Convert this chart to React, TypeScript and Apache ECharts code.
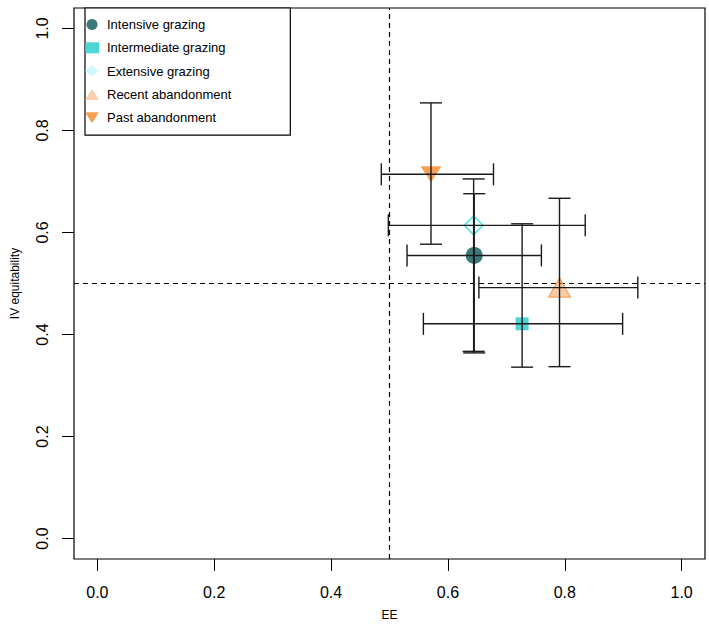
import React, { useEffect, useRef } from "react";
import * as echarts from "echarts";

const groups = [
  "Intensive grazing",
  "Intermediate grazing",
  "Extensive grazing",
  "Recent abandonment",
  "Past abandonment",
];
const eeMean = [0.645, 0.727, 0.644, 0.791, 0.571];
const eeLow = [0.53, 0.558, 0.498, 0.653, 0.486];
const eeHigh = [0.76, 0.899, 0.835, 0.925, 0.678];
const ivMean = [0.555, 0.421, 0.614, 0.492, 0.714];
const ivLow = [0.364, 0.336, 0.367, 0.337, 0.577];
const ivHigh = [0.676, 0.617, 0.705, 0.667, 0.854];
const tickValues = [0, 0.2, 0.4, 0.6, 0.8, 1.0];

const FONT = "'Liberation Sans', Arial, sans-serif";
const DOWN_TRI = "path://M0,0 L20,0 L10,16 Z";

const markerStyles = [
  { symbol: "circle", size: 17, itemStyle: { color: "#0a5757" }, legend: { color: "#0a5757" } },
  { symbol: "rect", size: 13, itemStyle: { color: "#1fcccc" }, legend: { color: "#1fcccc" } },
  {
    symbol: "diamond",
    size: [19, 19],
    itemStyle: { color: "rgba(200,250,250,0.55)", borderColor: "#35d6d6", borderWidth: 1.5 },
    legend: { color: "#c2f8fb", borderWidth: 0 },
  },
  {
    symbol: "triangle",
    size: [22, 19],
    itemStyle: { color: "rgba(248,170,110,0.75)", borderColor: "#f2943e", borderWidth: 1.2 },
    legend: { color: "#f9c39c", borderWidth: 0 },
  },
  { symbol: DOWN_TRI, size: [21, 16], itemStyle: { color: "#f48a2c" }, legend: { color: "#f48a2c" } },
];

export default function App() {
  const ref = useRef<HTMLDivElement>(null);
  useEffect(() => {
    if (!ref.current) return;
    const chart = echarts.init(ref.current, null, { renderer: "svg" });

    const scatterSeries = groups.map((g, i) => ({
      name: g,
      type: "scatter",
      z: 2,
      symbol: markerStyles[i].symbol,
      symbolSize: markerStyles[i].size,
      itemStyle: markerStyles[i].itemStyle,
      data: [[eeMean[i], ivMean[i]]],
      ...(i === 0
        ? {
            markLine: {
              silent: true,
              symbol: "none",
              label: { show: false },
              z: 1,
              lineStyle: { color: "#000", width: 1.2, type: [5, 4] },
              data: [{ xAxis: 0.5 }, { yAxis: 0.5 }],
            },
          }
        : {}),
    }));

    const errData = groups.map((_, i) => [
      eeMean[i],
      ivMean[i],
      eeLow[i],
      eeHigh[i],
      ivLow[i],
      ivHigh[i],
    ]);

    const errSeries = {
      type: "custom",
      z: 5,
      silent: true,
      data: errData,
      encode: { x: [0, 2, 3], y: [1, 4, 5] },
      renderItem: (params: any, api: any) => {
        const x = api.value(0);
        const y = api.value(1);
        const pl = api.coord([api.value(2), y]);
        const ph = api.coord([api.value(3), y]);
        const pb = api.coord([x, api.value(4)]);
        const pt = api.coord([x, api.value(5)]);
        const cap = 11;
        const style = { stroke: "#1a1a1a", lineWidth: 1.4 };
        const ln = (x1: number, y1: number, x2: number, y2: number) => ({
          type: "line",
          shape: { x1, y1, x2, y2 },
          style,
        });
        return {
          type: "group",
          children: [
            ln(pl[0], pl[1], ph[0], ph[1]),
            ln(pl[0], pl[1] - cap, pl[0], pl[1] + cap),
            ln(ph[0], ph[1] - cap, ph[0], ph[1] + cap),
            ln(pb[0], pb[1], pt[0], pt[1]),
            ln(pb[0] - cap, pb[1], pb[0] + cap, pb[1]),
            ln(pt[0] - cap, pt[1], pt[0] + cap, pt[1]),
          ],
        };
      },
    };

    const axisCommon = {
      type: "value",
      min: -0.04,
      max: 1.04,
      splitLine: { show: false },
      axisLine: { show: false, onZero: false },
      nameLocation: "middle",
      nameTextStyle: { fontFamily: FONT, fontSize: 12, color: "#000" },
    };

    chart.setOption({
      animation: false,
      backgroundColor: "#fff",
      textStyle: { fontFamily: FONT },
      grid: {
        left: 74,
        right: 4,
        top: 8,
        bottom: 68,
        show: true,
        borderColor: "#000",
        borderWidth: 1.2,
        backgroundColor: "transparent",
      },
      legend: {
        left: 85,
        top: 8,
        orient: "vertical",
        padding: [10, 59, 11, 0],
        itemWidth: 14,
        itemHeight: 11,
        itemGap: 10.3,
        borderColor: "#000",
        borderWidth: 1.2,
        backgroundColor: "#fff",
        textStyle: { fontFamily: FONT, fontSize: 13, color: "#000", padding: [0, 0, 0, 3] },
        data: groups.map((g, i) => ({ name: g, itemStyle: markerStyles[i].legend })),
      },
      xAxis: {
        ...axisCommon,
        name: "EE",
        nameGap: 50,
        axisTick: {
          show: true,
          length: 12,
          lineStyle: { color: "#000", width: 1 },
          customValues: tickValues,
        },
        axisLabel: {
          margin: 25,
          fontSize: 16,
          color: "#000",
          fontFamily: FONT,
          customValues: tickValues,
          formatter: (v: number) => v.toFixed(1),
        },
      },
      yAxis: {
        ...axisCommon,
        name: "IV equitability",
        nameGap: 53,
        nameRotate: 90,
        axisTick: {
          show: true,
          length: 12,
          lineStyle: { color: "#000", width: 1 },
          customValues: tickValues,
        },
        axisLabel: {
          margin: 24,
          rotate: 90,
          fontSize: 16,
          color: "#000",
          fontFamily: FONT,
          customValues: tickValues,
          formatter: (v: number) => v.toFixed(1),
        },
      },
      series: [...scatterSeries, errSeries],
    });
    return () => chart.dispose();
  }, []);
  return (
    <div
      ref={ref}
      style={{ position: "absolute", left: 0, top: 0, width: 709, height: 627, background: "#fff" }}
    />
  );
}
